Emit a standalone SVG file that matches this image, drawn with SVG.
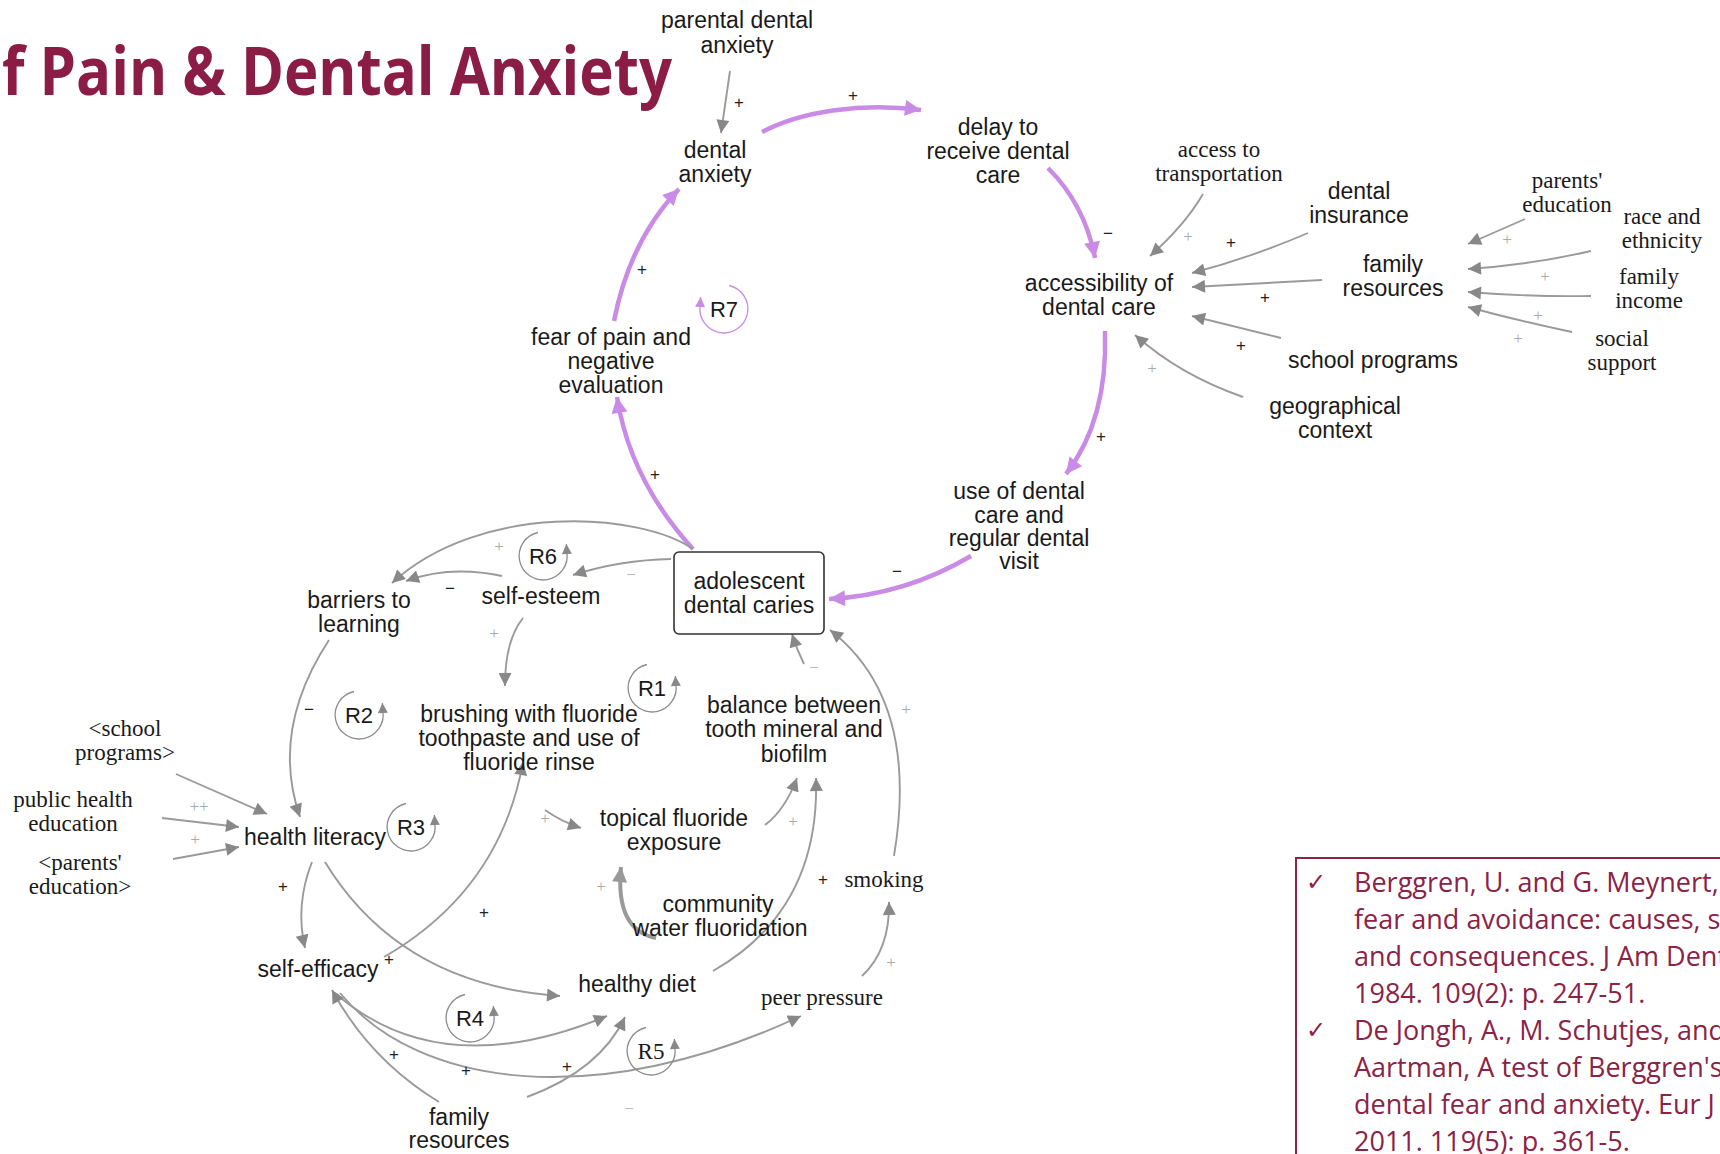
<svg xmlns="http://www.w3.org/2000/svg" width="1720" height="1154" viewBox="0 0 1720 1154">
  <defs>
    <style>
      .n { font-family: "Liberation Sans", Arial, sans-serif; font-size: 23px; fill: #1a1a1a; text-anchor: middle; }
      .s { font-family: "Liberation Serif", "Times New Roman", serif; font-size: 23px; fill: #1a1a1a; text-anchor: middle; }
      .title { font-family: "Open Sans", "Liberation Sans", sans-serif; font-weight: 700; font-size: 66px; fill: #8b1d45; }
      .ref { font-family: "Open Sans", "Liberation Sans", sans-serif; font-size: 27px; fill: #8b2346; }
      .chk { font-family: "DejaVu Sans", sans-serif; font-size: 24px; fill: #8b2346; }
      .pb { font-family: "Liberation Sans", Arial, sans-serif; font-size: 17px; fill: #222; text-anchor: middle; }
      .pg { font-family: "Liberation Serif", serif; font-size: 17px; fill: #aaa; text-anchor: middle; }
      .link { fill: none; stroke: #9a9a9a; stroke-width: 1.9; marker-end: url(#ah); }
      .thick { fill: none; stroke: #9a9a9a; stroke-width: 4; marker-end: url(#ahBig); }
      .main { fill: none; stroke: #c98be6; stroke-width: 4.5; marker-end: url(#ahP); }
      .loop { fill: none; stroke: #8c8c8c; stroke-width: 1.3; marker-end: url(#ahS); }
      .loopP { fill: none; stroke: #c98be6; stroke-width: 1.3; marker-end: url(#ahSP); }
      .lbl { font-family: "Liberation Sans", Arial, sans-serif; font-size: 22px; fill: #1a1a1a; text-anchor: middle; }
    </style>
    <marker id="ah" viewBox="0 0 10 10" refX="10" refY="5" markerWidth="19" markerHeight="13" markerUnits="userSpaceOnUse" orient="auto">
      <path d="M0,0 L10,5 L0,10 z" fill="#888"/>
    </marker>
    <marker id="ahBig" viewBox="0 0 10 10" refX="10" refY="5" markerWidth="20" markerHeight="15" markerUnits="userSpaceOnUse" orient="auto">
      <path d="M0,0 L10,5 L0,10 z" fill="#999"/>
    </marker>
    <marker id="ahS" viewBox="0 0 10 10" refX="10" refY="5" markerWidth="14" markerHeight="10" markerUnits="userSpaceOnUse" orient="auto">
      <path d="M0,0 L10,5 L0,10 z" fill="#888"/>
    </marker>
    <marker id="ahP" viewBox="0 0 10 10" refX="10" refY="5" markerWidth="23" markerHeight="16" markerUnits="userSpaceOnUse" orient="auto">
      <path d="M0,0 L10,5 L0,10 z" fill="#c98be6"/>
    </marker>
    <marker id="ahSP" viewBox="0 0 10 10" refX="10" refY="5" markerWidth="14" markerHeight="10" markerUnits="userSpaceOnUse" orient="auto">
      <path d="M0,0 L10,5 L0,10 z" fill="#c98be6"/>
    </marker>
    <!-- loop symbol arcs, drawn around (0,0) -->
    <path id="loopCCW" d="M-5,-23.5 A24,24 0 1 0 23.8,-4 l-0.4,-8"/>
    <path id="loopCW" d="M5,-23.5 A24,24 0 1 1 -23.8,-4 l0.4,-8"/>
  </defs>

  <rect width="1720" height="1154" fill="#ffffff"/>

  <!-- heading -->
  <text class="title" x="2" y="95" textLength="670" lengthAdjust="spacingAndGlyphs">f Pain &amp; Dental Anxiety</text>

  <!-- connectors -->
  <g id="connectors">
    <!-- main loop R7 -->
    <path class="main" d="M762,132 C800,112 860,102 921,110"/>
    <path class="main" d="M1048,168 Q1085,205 1095,258"/>
    <path class="main" d="M1105,331 Q1108,420 1066,474"/>
    <path class="main" d="M971,556 Q905,595 829,599"/>
    <path class="main" d="M693,549 Q630,480 617,397"/>
    <path class="main" d="M614,321 Q630,240 679,189"/>

    <!-- inputs to dental anxiety and accessibility -->
    <path class="link" d="M730,71 L721,133"/>
    <path class="link" d="M1203,194 Q1185,225 1150,256"/>
    <path class="link" d="M1308,233 Q1250,258 1192,273"/>
    <path class="link" d="M1322,280 L1192,287"/>
    <path class="link" d="M1281,338 L1192,316"/>
    <path class="link" d="M1243,397 Q1180,375 1135,335"/>
    <path class="link" d="M1525,219 L1468,244"/>
    <path class="link" d="M1591,251 Q1530,265 1468,269"/>
    <path class="link" d="M1591,296 Q1530,297 1468,292"/>
    <path class="link" d="M1572,332 Q1515,320 1468,307"/>

    <!-- caries sub-model -->
    <path class="link" d="M671,559 Q620,560 573,575"/>
    <path class="link" d="M693,549 C640,512 480,502 392,583"/>
    <path class="link" d="M502,576 Q450,565 406,581"/>
    <path class="link" d="M523,618 Q505,640 505,686"/>
    <path class="link" d="M329,640 Q270,730 300,817"/>
    <path class="link" d="M176,774 L267,814"/>
    <path class="link" d="M162,818 L239,827"/>
    <path class="link" d="M173,859 L239,847"/>
    <path class="link" d="M312,862 Q295,905 305,948"/>
    <path class="link" d="M325,862 Q400,985 560,996"/>
    <path class="link" d="M384,957 Q500,890 523,762"/>
    <path class="link" d="M545,810 Q562,822 581,828"/>
    <path class="link" d="M765,825 Q785,810 797,778"/>
    <path class="thick" d="M656,938 Q615,930 621,867"/>
    <path class="link" d="M713,971 Q820,910 816,778"/>
    <path class="link" d="M804,664 Q797,650 792,634"/>
    <path class="link" d="M894,856 Q920,700 830,630"/>
    <path class="link" d="M862,976 Q890,950 889,902"/>
    <path class="link" d="M335,993 Q440,1085 607,1016"/>
    <path class="link" d="M340,993 C420,1090 600,1110 801,1016"/>
    <path class="link" d="M439,1102 Q370,1060 332,990"/>
    <path class="link" d="M527,1097 Q600,1070 625,1017"/>

    <!-- polarity signs -->
    <text class="pb" x="739" y="108">+</text>
    <text class="pb" x="853" y="101">+</text>
    <text class="pb" x="1108" y="239">−</text>
    <text class="pb" x="1101" y="442">+</text>
    <text class="pb" x="897" y="577">−</text>
    <text class="pb" x="655" y="480">+</text>
    <text class="pb" x="642" y="275">+</text>
    <text class="pg" x="1188" y="242">+</text>
    <text class="pb" x="1231" y="248">+</text>
    <text class="pb" x="1265" y="303">+</text>
    <text class="pb" x="1241" y="351">+</text>
    <text class="pg" x="1152" y="374">+</text>
    <text class="pg" x="1507" y="245">+</text>
    <text class="pg" x="1545" y="282">+</text>
    <text class="pg" x="1538" y="321">+</text>
    <text class="pg" x="1518" y="344">+</text>
    <text class="pg" x="631" y="580">−</text>
    <text class="pg" x="499" y="552">+</text>
    <text class="pb" x="450" y="594">−</text>
    <text class="pg" x="494" y="639">+</text>
    <text class="pb" x="309" y="715">−</text>
    <text class="pg" x="199" y="812">++</text>
    <text class="pg" x="195" y="845">+</text>
    <text class="pb" x="283" y="892">+</text>
    <text class="pb" x="484" y="918">+</text>
    <text class="pb" x="389" y="965">+</text>
    <text class="pg" x="545" y="824">+</text>
    <text class="pg" x="793" y="827">+</text>
    <text class="pg" x="601" y="892">+</text>
    <text class="pb" x="823" y="885">+</text>
    <text class="pg" x="814" y="673">−</text>
    <text class="pg" x="906" y="715">+</text>
    <text class="pg" x="891" y="968">+</text>
    <text class="pb" x="394" y="1060">+</text>
    <text class="pb" x="466" y="1076">+</text>
    <text class="pb" x="567" y="1072">+</text>
    <text class="pg" x="629" y="1114">−</text>
  </g>

  <!-- loop markers -->
  <g id="loop-R7" transform="translate(724,309)">
    <use href="#loopCW" class="loopP"/>
    <text class="lbl" x="0" y="8">R7</text>
  </g>
  <g id="loop-R6" transform="translate(543,556)">
    <use href="#loopCCW" class="loop"/>
    <text class="lbl" x="0" y="8">R6</text>
  </g>
  <g id="loop-R1" transform="translate(652,688)">
    <use href="#loopCCW" class="loop"/>
    <text class="lbl" x="0" y="8">R1</text>
  </g>
  <g id="loop-R2" transform="translate(359,715)">
    <use href="#loopCCW" class="loop"/>
    <text class="lbl" x="0" y="8">R2</text>
  </g>
  <g id="loop-R3" transform="translate(411,827)">
    <use href="#loopCCW" class="loop"/>
    <text class="lbl" x="0" y="8">R3</text>
  </g>
  <g id="loop-R4" transform="translate(470,1018)">
    <use href="#loopCCW" class="loop"/>
    <text class="lbl" x="0" y="8">R4</text>
  </g>
  <g id="loop-R5" transform="translate(651,1051)">
    <use href="#loopCCW" class="loop"/>
    <text class="s" x="0" y="8">R5</text>
  </g>

  <!-- variables -->
  <g id="parental-dental-anxiety"><text class="n" x="737" y="28">parental dental<tspan x="737" y="53">anxiety</tspan></text></g>
  <g id="dental-anxiety"><text class="n" x="715" y="158">dental<tspan x="715" y="182">anxiety</tspan></text></g>
  <g id="delay-to-care"><text class="n" x="998" y="135">delay to<tspan x="998" y="159">receive dental</tspan><tspan x="998" y="183">care</tspan></text></g>
  <g id="access-to-transportation"><text class="s" x="1219" y="157">access to<tspan x="1219" y="181">transportation</tspan></text></g>
  <g id="dental-insurance"><text class="n" x="1359" y="199">dental<tspan x="1359" y="223">insurance</tspan></text></g>
  <g id="parents-education"><text class="s" x="1567" y="188">parents'<tspan x="1567" y="212">education</tspan></text></g>
  <g id="race-ethnicity"><text class="s" x="1662" y="224">race and<tspan x="1662" y="248">ethnicity</tspan></text></g>
  <g id="family-resources"><text class="n" x="1393" y="272">family<tspan x="1393" y="296">resources</tspan></text></g>
  <g id="family-income"><text class="s" x="1649" y="284">family<tspan x="1649" y="308">income</tspan></text></g>
  <g id="accessibility"><text class="n" x="1099" y="291">accessibility of<tspan x="1099" y="315">dental care</tspan></text></g>
  <g id="school-programs"><text class="n" x="1373" y="368">school programs</text></g>
  <g id="social-support"><text class="s" x="1622" y="346">social<tspan x="1622" y="370">support</tspan></text></g>
  <g id="geographical-context"><text class="n" x="1335" y="414">geographical<tspan x="1335" y="438">context</tspan></text></g>
  <g id="fear-of-pain"><text class="n" x="611" y="345">fear of pain and<tspan x="611" y="369">negative</tspan><tspan x="611" y="393">evaluation</tspan></text></g>
  <g id="use-of-dental-care"><text class="n" x="1019" y="499">use of dental<tspan x="1019" y="523">care and</tspan><tspan x="1019" y="546">regular dental</tspan><tspan x="1019" y="569">visit</tspan></text></g>
  <g id="adolescent-dental-caries">
    <rect x="674" y="552" width="150" height="82" rx="5" fill="#fff" stroke="#333" stroke-width="1.6"/>
    <text class="n" x="749" y="589">adolescent<tspan x="749" y="613">dental caries</tspan></text>
  </g>
  <g id="barriers-to-learning"><text class="n" x="359" y="608">barriers to<tspan x="359" y="632">learning</tspan></text></g>
  <g id="self-esteem"><text class="n" x="541" y="604">self-esteem</text></g>
  <g id="brushing"><text class="n" x="529" y="722">brushing with fluoride<tspan x="529" y="746">toothpaste and use of</tspan><tspan x="529" y="770">fluoride rinse</tspan></text></g>
  <g id="balance"><text class="n" x="794" y="713">balance between<tspan x="794" y="737">tooth mineral and</tspan><tspan x="794" y="762">biofilm</tspan></text></g>
  <g id="school-programs-shadow"><text class="s" x="125" y="736">&lt;school<tspan x="125" y="760">programs&gt;</tspan></text></g>
  <g id="public-health-education"><text class="s" x="73" y="807">public health<tspan x="73" y="831">education</tspan></text></g>
  <g id="parents-education-shadow"><text class="s" x="80" y="870">&lt;parents'<tspan x="80" y="894">education&gt;</tspan></text></g>
  <g id="health-literacy"><text class="n" x="315" y="845">health literacy</text></g>
  <g id="topical-fluoride"><text class="n" x="674" y="826">topical fluoride<tspan x="674" y="850">exposure</tspan></text></g>
  <g id="smoking"><text class="s" x="884" y="887">smoking</text></g>
  <g id="water-fluoridation"><text class="n" x="718" y="912">community<tspan x="720" y="936">water fluoridation</tspan></text></g>
  <g id="self-efficacy"><text class="n" x="318" y="977">self-efficacy</text></g>
  <g id="healthy-diet"><text class="n" x="637" y="992">healthy diet</text></g>
  <g id="peer-pressure"><text class="s" x="822" y="1005">peer pressure</text></g>
  <g id="family-resources-2"><text class="n" x="459" y="1125">family<tspan x="459" y="1148">resources</tspan></text></g>

  <!-- reference list -->
  <g id="references">
    <rect x="1296" y="858" width="440" height="310" fill="none" stroke="#8b2346" stroke-width="2"/>
    <text class="chk" x="1306" y="890">✓</text>
    <text class="chk" x="1306" y="1038">✓</text>
    <text class="ref" x="1354" y="892">Berggren, U. and G. Meynert,</text>
    <text class="ref" x="1354" y="929">fear and avoidance: causes, sy</text>
    <text class="ref" x="1354" y="966">and consequences. J Am Dent</text>
    <text class="ref" x="1354" y="1003">1984. 109(2): p. 247-51.</text>
    <text class="ref" x="1354" y="1040">De Jongh, A., M. Schutjes, and</text>
    <text class="ref" x="1354" y="1077">Aartman, A test of Berggren's</text>
    <text class="ref" x="1354" y="1114">dental fear and anxiety. Eur J</text>
    <text class="ref" x="1354" y="1151">2011. 119(5): p. 361-5.</text>
  </g>
</svg>
